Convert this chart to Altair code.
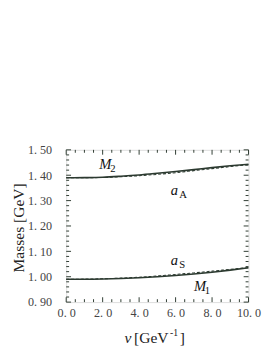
import altair as alt
import pandas as pd

# data
v = [0, 1, 2, 3, 4, 5, 6, 7, 8, 9, 10]
M2 = [1.390, 1.3905, 1.392, 1.396, 1.401, 1.4075, 1.4145, 1.422, 1.430, 1.437, 1.443]
aA = [1.390, 1.3902, 1.391, 1.394, 1.398, 1.4035, 1.410, 1.418, 1.426, 1.434, 1.442]
M1 = [0.990, 0.990, 0.991, 0.993, 0.996, 1.000, 1.005, 1.011, 1.018, 1.026, 1.035]
aS = [0.990, 0.9905, 0.992, 0.9945, 0.998, 1.003, 1.009, 1.015, 1.022, 1.029, 1.036]

x_major = [0, 2, 4, 6, 8, 10]
x_minor = [0.5, 1, 1.5, 2.5, 3, 3.5, 4.5, 5, 5.5, 6.5, 7, 7.5, 8.5, 9, 9.5]
y_major = [0.9, 1.0, 1.1, 1.2, 1.3, 1.4, 1.5]
y_minor = [round(0.9 + 0.02 * i, 2) for i in range(31) if i % 5 != 0]

# label positions (data coordinates)
labels = pd.DataFrame([
    {"x": 2.15, "y": 1.445, "main": "M", "sub": "2"},
    {"x": 5.93, "y": 1.341, "main": "a", "sub": "A"},
    {"x": 5.93, "y": 1.066, "main": "a", "sub": "S"},
    {"x": 7.34, "y": 0.961, "main": "M", "sub": "1"},
])

W, H = 188, 157
COL = "#2c3a30"
FONT = "Liberation Serif"

solid = pd.DataFrame({"v": v * 2, "m": M2 + M1, "s": ["M2"] * 11 + ["M1"] * 11})
dashed = pd.DataFrame({"v": v * 2, "m": aA + aS, "s": ["aA"] * 11 + ["aS"] * 11})

xs = alt.Scale(domain=[0, 10], nice=False, zero=False)
ys = alt.Scale(domain=[0.9, 1.5], nice=False, zero=False)

xax = alt.Axis(values=x_major, ticks=False, domain=False, grid=False, title=None,
               labelOverlap=False, labelFlush=False,
               labelExpr="replace(format(datum.value, '.1f'), '.', '. ')",
               labelFont=FONT, labelFontSize=12.5, labelColor="#444", labelPadding=5)
yax = alt.Axis(values=y_major, ticks=False, domain=False, grid=False, title=None,
               labelOverlap=False, labelFlush=False,
               labelExpr="replace(format(datum.value, '.2f'), '.', '. ')",
               labelFont=FONT, labelFontSize=12.5, labelColor="#444", labelPadding=15)

def X(field):
    return alt.X(field, type="quantitative", scale=xs, axis=xax)

def Y(field):
    return alt.Y(field, type="quantitative", scale=ys, axis=yax)

base_solid = alt.Chart(solid).mark_line(color=COL, strokeWidth=1.6, interpolate="monotone").encode(
    x=X("v"), y=Y("m"), detail="s:N")
base_dash = alt.Chart(dashed).mark_line(color=COL, strokeWidth=1.1, strokeDash=[3, 2],
                                        interpolate="monotone").encode(
    x=X("v"), y=Y("m"), detail="s:N")

def xticks(vals, length):
    df = pd.DataFrame({"t": vals})
    top = alt.Chart(df).mark_rule(color=COL, strokeWidth=1).encode(
        x=X("t"), y=alt.value(0), y2=alt.value(length))
    bot = alt.Chart(df).mark_rule(color=COL, strokeWidth=1).encode(
        x=X("t"), y=alt.value(H - length), y2=alt.value(H))
    return [top, bot]

def yticks(vals, length):
    df = pd.DataFrame({"t": vals})
    left = alt.Chart(df).mark_rule(color=COL, strokeWidth=1).encode(
        y=Y("t"), x=alt.value(0), x2=alt.value(length))
    right = alt.Chart(df).mark_rule(color=COL, strokeWidth=1).encode(
        y=Y("t"), x=alt.value(W - length), x2=alt.value(W))
    return [left, right]

ticks = xticks(x_major, 5) + xticks(x_minor, 3) + yticks(y_major, 5) + yticks(y_minor, 3)

main_lbl = alt.Chart(labels).mark_text(font=FONT, fontSize=15, fontStyle="italic",
                                       color="#111", align="center", baseline="middle").encode(
    x=X("x"), y=Y("y"), text="main:N")
sub_lbl = alt.Chart(labels).mark_text(font=FONT, fontSize=11, color="#111", align="left",
                                      baseline="middle", dx=5, dy=5).encode(
    x=X("x"), y=Y("y"), text="sub:N")

title_df = pd.DataFrame({"txt": ["Masses [GeV]"]})
ytitle = alt.Chart(title_df).mark_text(font=FONT, fontSize=16, color="#222", angle=270,
                                       align="center", baseline="middle").encode(
    x=alt.value(-49), y=alt.value(H / 2 + 2), text="txt:N")

xt = pd.DataFrame({"txt": ["v", "[GeV", "-1", "]"]})
def xpart(t, xpos, ypos, size, italic=False):
    return alt.Chart(xt).transform_filter(f"datum.txt == '{t}'").mark_text(
        font=FONT, fontSize=size, fontStyle="italic" if italic else "normal", color="#222",
        align="left", baseline="alphabetic").encode(
        x=alt.value(xpos), y=alt.value(ypos), text="txt:N")

xtitle = [xpart("v", 60, H + 42, 16, True), xpart("[GeV", 70, H + 42, 16),
          xpart("-1", 107, H + 35, 10), xpart("]", 117, H + 42, 16)]

chart = alt.layer(
    base_solid, base_dash, *ticks, main_lbl, sub_lbl, ytitle, *xtitle
).properties(
    width=W, height=H,
    autosize=alt.AutoSizeParams(type="none"),
    padding={"left": 60, "top": 141, "right": 17, "bottom": 40},
).configure_view(stroke=COL, strokeWidth=1.5).configure_axis(
    labelOverlap=False, labelFlush=False
).configure(background="white")

chart.save("out.html", embed_options={"renderer": "svg", "actions": False})
